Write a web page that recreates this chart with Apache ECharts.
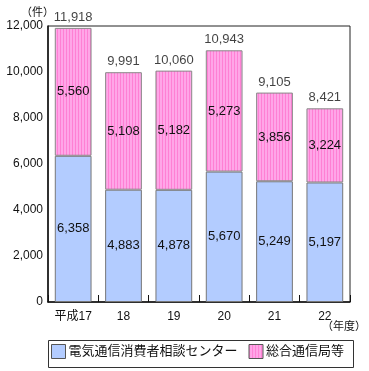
<!DOCTYPE html>
<html><head><meta charset="utf-8">
<script src="https://cdn.jsdelivr.net/npm/echarts@6/dist/echarts.min.js"></script>
<style>html,body{margin:0;padding:0;background:#fff}#c{width:369px;height:371px}</style>
</head><body><div id="c"></div>
<script>
const categories = ['平成17','18','19','20','21','22'];
const center = [6358,4883,4878,5670,5249,5197];
const bureau = [5560,5108,5182,5273,3856,3224];
const totals = [11918,9991,10060,10943,9105,8421];
const seriesNames = ['電気通信消費者相談センター','総合通信局等'];

const pc = document.createElement('canvas');
pc.width = 3; pc.height = 4;
const g = pc.getContext('2d');
g.fillStyle = '#ffa6e8'; g.fillRect(0,0,3,4);
g.fillStyle = '#ff80d4'; g.fillRect(0,0,1,4);
const pinkPattern = {image: pc, repeat: 'repeat'};

const font = 'Arial, "Liberation Sans", "Noto Sans CJK JP", sans-serif';
const fmt = v => v.toLocaleString('en-US');
const chart = echarts.init(document.getElementById('c'));
chart.setOption({
  animation:false,
  textStyle:{fontFamily:font},
  grid:{left:48,right:19,top:26,bottom:69,show:true,borderColor:'#222',borderWidth:1},
  graphic:[
    {type:'rect',left:46,top:338,shape:{width:305,height:27},style:{fill:'none',stroke:'#333',lineWidth:1}},
    {type:'text',left:21,top:7,style:{text:'（件）',fill:'#111',font:'11px '+font}},
    {type:'text',left:322,top:321,style:{text:'（年度）',fill:'#111',font:'11px '+font}}
  ],
  legend:{
    top:344,left:51,
    icon:'rect',
    itemWidth:14,itemHeight:14,itemGap:11,
    padding:0,
    textStyle:{fontSize:13,color:'#111',fontFamily:font,padding:[0,0,0,-2]},
    data:[{name:seriesNames[0],itemStyle:{color:'#b3ccff',borderColor:'#555',borderWidth:1}},
          {name:seriesNames[1],itemStyle:{color:pinkPattern,borderColor:'#555',borderWidth:1}}]
  },
  xAxis:{type:'category',data:categories,
    axisLine:{lineStyle:{color:'#111',width:1.5}},
    axisTick:{show:true,inside:true,length:7,lineStyle:{color:'#111'}},
    axisLabel:{color:'#111',fontSize:12,margin:9}
  },
  yAxis:{type:'value',min:0,max:12000,interval:2000,
    axisLine:{show:true,lineStyle:{color:'#111',width:1.5}},
    axisTick:{show:false},
    splitLine:{show:false},
    axisLabel:{color:'#111',fontSize:12,margin:5,formatter:v=>fmt(v)}
  },
  series:[
    {name:seriesNames[0],type:'bar',stack:'a',barWidth:'73%',data:center,
     itemStyle:{color:'#b3ccff',borderColor:'#777',borderWidth:1},
     label:{show:true,position:'inside',color:'#111',fontSize:13,formatter:p=>fmt(p.value)}},
    {name:seriesNames[1],type:'bar',stack:'a',barWidth:'73%',data:bureau,
     itemStyle:{color:pinkPattern,borderColor:'#888',borderWidth:1},
     label:{show:true,position:'inside',color:'#111',fontSize:13,formatter:p=>fmt(p.value)}},
    {name:'total',type:'scatter',data:totals,symbolSize:0,silent:true,
     label:{show:true,position:'top',distance:4,color:'#111',fontSize:13,formatter:p=>fmt(p.value)}}
  ]
});
</script></body></html>
